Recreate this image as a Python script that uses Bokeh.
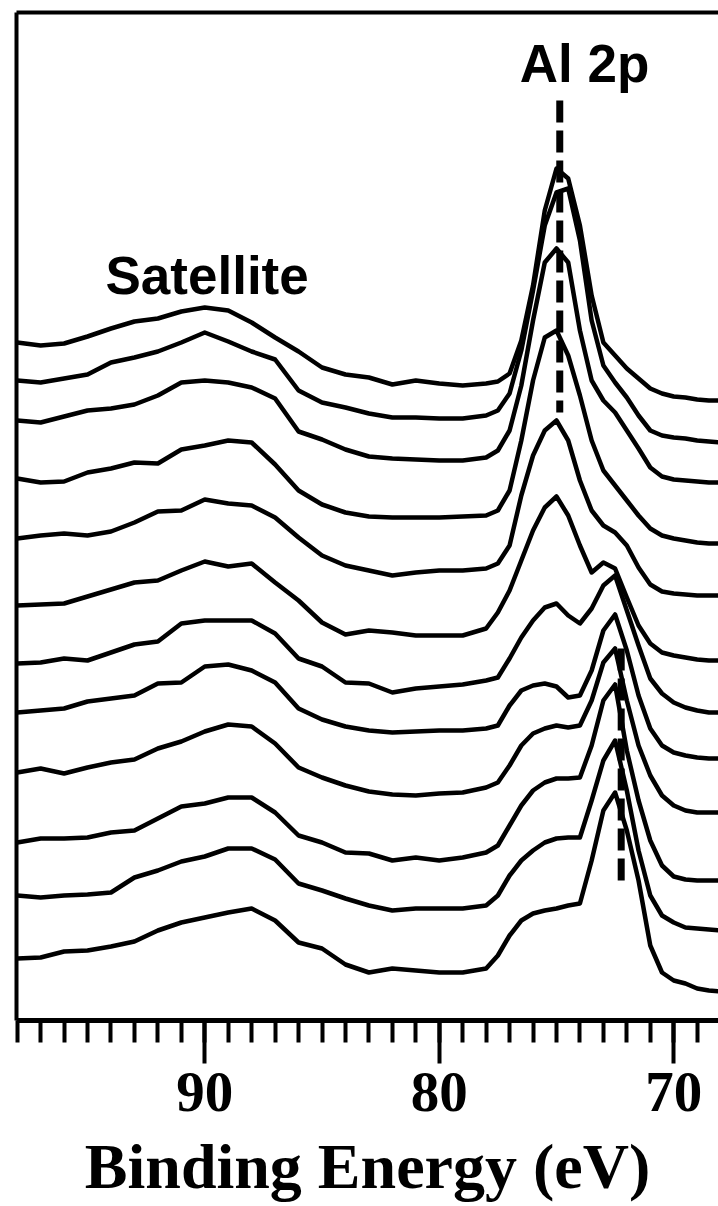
from bokeh.plotting import figure
from bokeh.models import Range1d, LinearAxis, SingleIntervalTicker, FixedTicker
from bokeh.embed import file_html
from bokeh.resources import INLINE
from bokeh.core.properties import value

# Binding energy grid (eV)
energy = [98, 97, 96, 95, 94, 93, 92, 91, 90, 89, 88, 87, 86, 85, 84, 83, 82, 81, 80, 79, 78,
          77.5, 77, 76.5, 76, 75.5, 75, 74.5, 74, 73.5, 73, 72.5, 72, 71.5, 71, 70.5, 70,
          69.5, 69, 68.5, 68]

# Stacked spectra (offset intensity, arb. units), top to bottom
s01 = [678, 675, 677, 684, 692, 699, 702, 709, 713, 710, 698, 683, 669, 653, 646, 643, 636, 640, 637, 635,
       637, 639, 647, 680, 735, 810, 852, 842, 795, 725, 678, 665, 652, 642, 632, 627, 624, 623, 621, 620, 620]
s02 = [640, 638, 642, 646, 658, 663, 669, 678, 688, 679, 669, 661, 630, 618, 613, 607, 603, 603, 602, 602,
       605, 610, 627, 670, 730, 795, 828, 832, 780, 700, 655, 638, 623, 605, 590, 585, 583, 582, 580, 579, 578]
s03 = [600, 598, 604, 610, 612, 616, 625, 638, 640, 638, 633, 622, 589, 581, 571, 564, 562, 561, 560, 560,
       563, 570, 590, 635, 700, 758, 772, 758, 690, 640, 620, 608, 590, 572, 553, 544, 541, 540, 539, 538, 538]
s04 = [542, 538, 539, 548, 552, 558, 557, 571, 575, 580, 578, 556, 530, 516, 508, 504, 503, 503, 503, 504,
       505, 510, 530, 580, 640, 683, 690, 665, 625, 580, 550, 535, 520, 505, 492, 485, 482, 480, 478, 477, 477]
s05 = [482, 485, 487, 485, 489, 498, 509, 510, 521, 517, 515, 503, 483, 465, 455, 450, 445, 448, 450, 450,
       452, 457, 475, 525, 565, 590, 600, 580, 540, 510, 495, 488, 475, 453, 436, 429, 427, 426, 425, 425, 425]
s06 = [415, 416, 417, 424, 431, 438, 440, 450, 459, 454, 457, 438, 420, 398, 386, 390, 388, 385, 385, 385,
       392, 408, 430, 460, 490, 513, 524, 505, 475, 448, 458, 452, 423, 395, 377, 368, 365, 363, 361, 360, 360]
s07 = [357, 358, 362, 360, 368, 376, 379, 397, 400, 400, 400, 387, 362, 354, 338, 337, 328, 332, 334, 336,
       340, 343, 362, 383, 400, 413, 417, 405, 397, 412, 435, 445, 410, 375, 342, 327, 318, 313, 310, 308, 308]
s08 = [308, 310, 312, 319, 322, 325, 337, 338, 354, 356, 350, 338, 312, 301, 294, 290, 288, 289, 290, 290,
       292, 295, 315, 330, 335, 337, 334, 323, 325, 350, 390, 406, 370, 325, 292, 275, 268, 265, 263, 262, 262]
s09 = [248, 252, 247, 253, 258, 261, 272, 279, 289, 296, 294, 277, 253, 243, 235, 229, 226, 225, 227, 228,
       233, 238, 255, 275, 287, 292, 295, 293, 295, 320, 358, 372, 320, 275, 245, 225, 215, 210, 208, 208, 208]
s10 = [178, 182, 182, 183, 188, 190, 202, 214, 217, 223, 223, 208, 185, 178, 168, 167, 160, 163, 160, 163,
       168, 175, 195, 215, 230, 238, 242, 242, 243, 275, 320, 336, 270, 220, 180, 155, 144, 141, 140, 140, 140]
s11 = [125, 123, 125, 126, 128, 143, 150, 159, 164, 172, 172, 161, 137, 130, 122, 115, 110, 112, 112, 112,
       115, 125, 145, 160, 170, 178, 182, 183, 183, 220, 260, 280, 230, 170, 125, 105, 98, 93, 92, 91, 90]
s12 = [62, 63, 69, 70, 74, 79, 90, 98, 103, 108, 112, 100, 78, 72, 56, 48, 52, 50, 48, 48,
       52, 65, 85, 100, 107, 110, 112, 115, 117, 160, 210, 228, 190, 140, 75, 48, 40, 37, 32, 30, 29]
spectra = [s01, s02, s03, s04, s05, s06, s07, s08, s09, s10, s11, s12]

# Peak position markers (eV) and their vertical extents
marker_energy = [74.86, 72.24]
marker_top = [920, 372]
marker_bottom = [608, 138]

# Annotations
label_text = ["Al 2p", "Satellite"]
label_energy = [73.8, 89.9]
label_level = [957, 745]

p = figure(width=718, height=1206, output_backend="svg", toolbar_location=None,
           x_range=Range1d(98.03, 68.09), y_range=Range1d(0, 1008),
           min_border_left=16, min_border_right=0, min_border_top=12, min_border_bottom=186)
p.grid.visible = False
p.outline_line_color = None
p.background_fill_color = "white"
p.border_fill_color = "white"

xa = p.xaxis[0]
xa.ticker = SingleIntervalTicker(interval=10, num_minor_ticks=10)
xa.axis_line_width = 5
xa.axis_line_color = "black"
xa.major_tick_line_width = 4
xa.minor_tick_line_width = 4
xa.major_tick_line_color = "black"
xa.minor_tick_line_color = "black"
xa.major_tick_in = 0
xa.major_tick_out = 43
xa.minor_tick_in = 0
xa.minor_tick_out = 22
xa.major_label_text_font = "Liberation Serif"
xa.major_label_text_font_style = "bold"
xa.major_label_text_font_size = "57px"
xa.major_label_text_color = "black"
xa.major_label_standoff = 9
xa.axis_label = "Binding Energy (eV)"
xa.axis_label_text_font = "Liberation Serif"
xa.axis_label_text_font_style = "bold"
xa.axis_label_text_font_size = "64px"
xa.axis_label_text_color = "black"
xa.axis_label_standoff = 17

ya = p.yaxis[0]
ya.ticker = FixedTicker(ticks=[])
ya.axis_line_width = 4
ya.axis_line_color = "black"
ya.major_tick_line_color = None
ya.minor_tick_line_color = None
ya.major_tick_out = 0
ya.minor_tick_out = 0
ya.major_label_text_font_size = "0px"
ya.major_label_standoff = 0

top_axis = LinearAxis(ticker=FixedTicker(ticks=[]), axis_line_width=4, axis_line_color="black",
                      major_tick_line_color=None, minor_tick_line_color=None,
                      major_tick_out=0, minor_tick_out=0,
                      major_label_text_font_size="0px", major_label_standoff=0)
p.add_layout(top_axis, "above")

for s in spectra:
    p.line(energy, s, line_color="black", line_width=4.5, line_join="round")

for e, t, b in zip(marker_energy, marker_top, marker_bottom):
    p.line([e, e], [t, b], line_color="black", line_width=7, line_dash="22 8")

p.text(x=label_energy, y=label_level, text=label_text,
       text_font=value("Liberation Sans"), text_font_style="bold", text_font_size="53px",
       text_align="center", text_baseline="alphabetic", text_color="black")

open("out.html", "w").write(file_html(p, INLINE))
